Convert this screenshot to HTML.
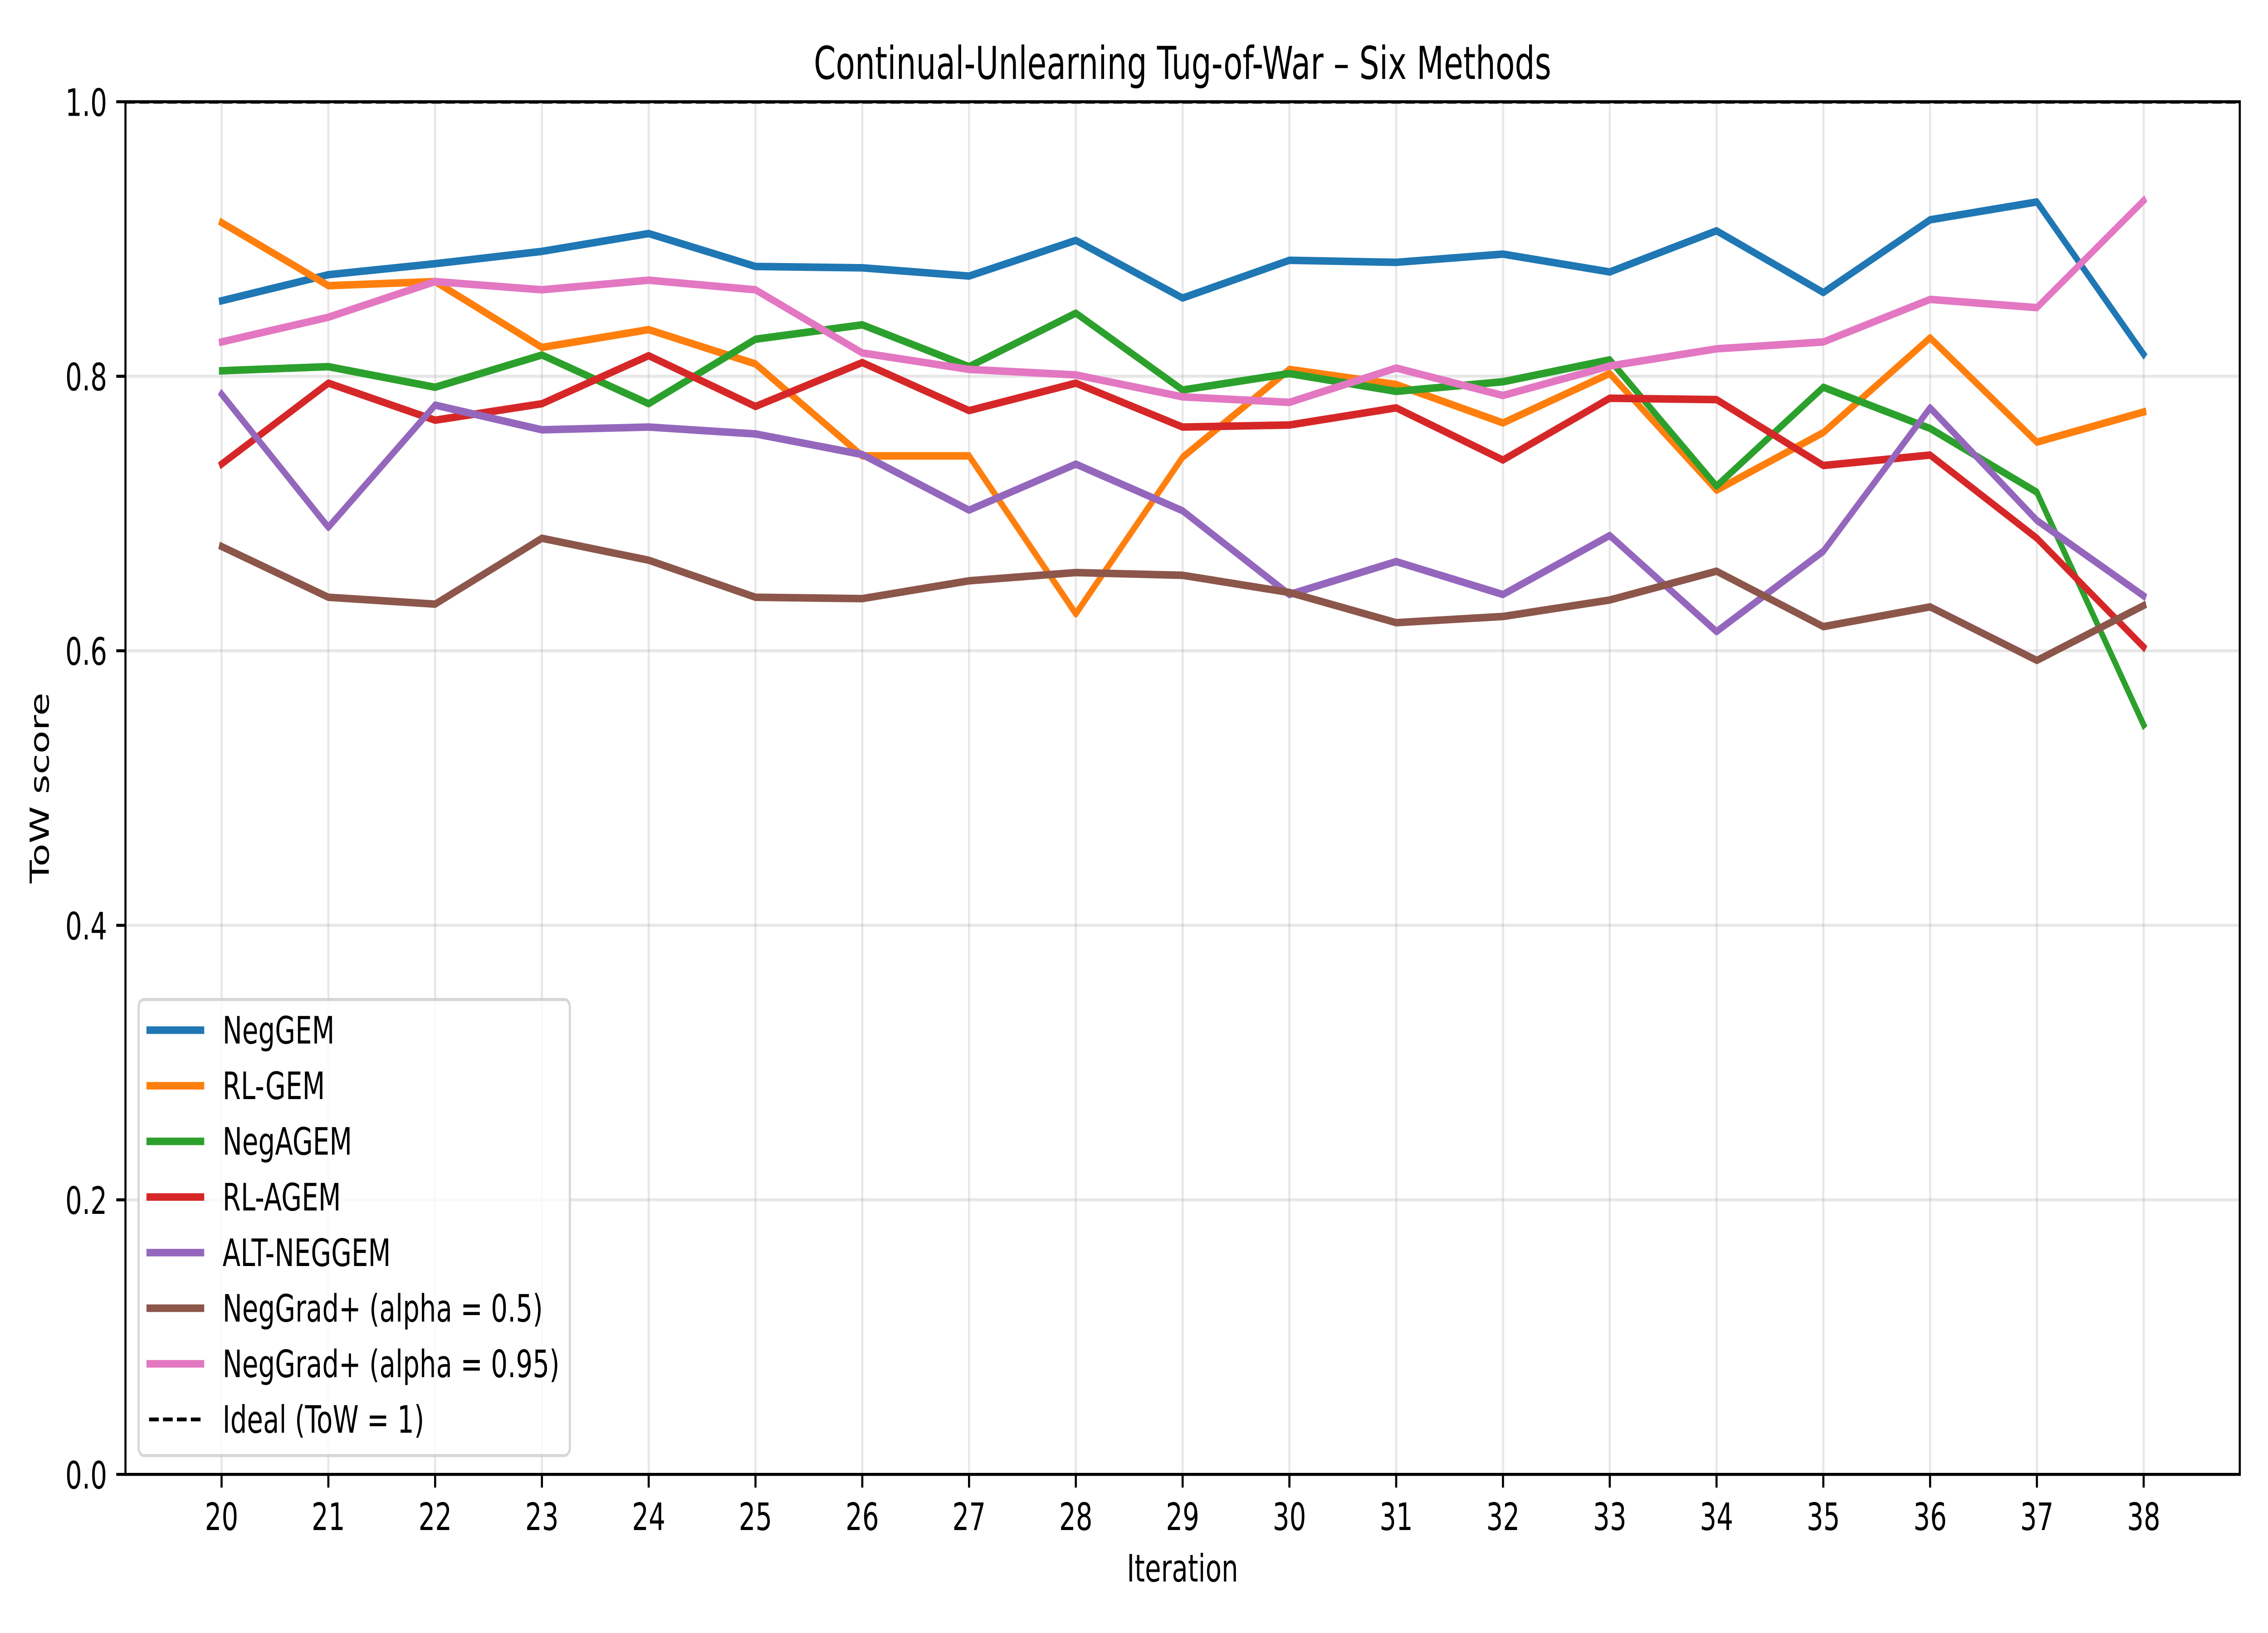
<!DOCTYPE html>
<html lang="en">
<head>
<meta charset="utf-8">
<title>Continual-Unlearning Tug-of-War – Six Methods</title>
<style>
html,body{margin:0;padding:0;background:#fff;width:100%;height:100%;overflow:hidden}
svg{display:block;position:fixed;left:0;top:0;width:100vw;height:100vh;font-family:"DejaVu Sans","Liberation Sans",sans-serif;text-rendering:geometricPrecision}
</style>
</head>
<body>
<svg id="chart" xmlns="http://www.w3.org/2000/svg" viewBox="0 0 7200 3600" preserveAspectRatio="none">
  <rect x="0" y="0" width="7200" height="3600" fill="#ffffff"/>
  <defs><clipPath id="axes-clip"><rect x="398.3" y="224.3" width="6712.1" height="3026"/></clipPath></defs>
  <g id="grid"></g>
  <g id="series"></g>
  <g id="ticks"></g>
  <g id="spines"></g>
  <g id="legend"></g>
  <text x="3754" y="174" font-size="100" text-anchor="middle" fill="#000">Continual-Unlearning Tug-of-War – Six Methods</text>
  <text x="3754" y="3486.5" font-size="83.33" text-anchor="middle" fill="#000">Iteration</text>
  <text x="155" y="1737" font-size="83.33" text-anchor="middle" fill="#000" transform="rotate(-90 155 1737)">ToW score</text>
</svg>
<script>
const iterations = [20,21,22,23,24,25,26,27,28,29,30,31,32,33,34,35,36,37,38];
const yTickValues = [0,0.2,0.4,0.6,0.8,1];
const yTickLabels = ['0.0','0.2','0.4','0.6','0.8','1.0'];
const seriesNames = ['NegGEM','RL-GEM','NegAGEM','RL-AGEM','ALT-NEGGEM','NegGrad+ (alpha = 0.5)','NegGrad+ (alpha = 0.95)'];
const idealLabel = 'Ideal (ToW = 1)';
const idealValue = 1;
const negGem = [.855,.874,.882,.891,.904,.880,.879,.873,.899,.857,.8845,.883,.889,.876,.906,.861,.914,.927,.816];
const rlGem = [.912,.866,.869,.821,.834,.809,.742,.742,.627,.741,.805,.794,.766,.802,.717,.759,.828,.752,.774];
const negAgem = [.804,.807,.792,.8155,.780,.827,.8375,.807,.846,.790,.802,.789,.796,.812,.720,.792,.762,.7155,.546];
const rlAgem = [.736,.795,.768,.780,.815,.778,.810,.775,.795,.763,.7645,.777,.739,.784,.783,.735,.7426,.682,.6027];
const altNeggem = [.787,.690,.779,.761,.763,.758,.743,.7025,.736,.702,.641,.665,.641,.684,.614,.6725,.777,.695,.640];
const negGradHalf = [.676,.639,.634,.682,.666,.639,.638,.651,.657,.655,.6425,.6205,.625,.637,.658,.6176,.632,.593,.633];
const negGradHigh = [.825,.843,.869,.863,.870,.863,.817,.805,.801,.785,.781,.806,.786,.8075,.820,.825,.856,.850,.928];
const allSeries = [negGem,rlGem,negAgem,rlAgem,altNeggem,negGradHalf,negGradHigh];
const seriesColors = ['#1f77b4','#ff7f0e','#2ca02c','#d62728','#9467bd','#8c564b','#e377c2'];

const NS = 'http://www.w3.org/2000/svg';
const axLeft = 398.3, axRight = 7110.4, axTop = 224.3, axBottom = 3250.3;
const xMin = iterations[0] - (iterations[iterations.length-1]-iterations[0])*0.05;
const xMax = iterations[iterations.length-1] + (iterations[iterations.length-1]-iterations[0])*0.05;
function xScale(v){ return axLeft + (v-xMin)/(xMax-xMin)*(axRight-axLeft); }
function yScale(v){ return axBottom - v*(axBottom-axTop); }
function mk(tag, parent, attrs){
  const el = document.createElementNS(NS, tag);
  for (const k in attrs) el.setAttribute(k, attrs[k]);
  parent.appendChild(el);
  return el;
}
function slug(s){ return s.toLowerCase().replace(/[^a-z0-9]+/g,'-').replace(/^-|-$/g,''); }

const gridG = document.getElementById('grid');
const seriesG = document.getElementById('series');
const ticksG = document.getElementById('ticks');
const spinesG = document.getElementById('spines');
const legendG = document.getElementById('legend');
const LW = 6.67, TICK = 29.17, PAD = 29.17, FS = 83.33;

iterations.forEach(function(it){
  const px = xScale(it);
  const g = mk('line', gridG, {x1:px,x2:px,y1:axTop,y2:axBottom,stroke:'#b0b0b0','stroke-opacity':0.3,'stroke-width':LW});
  
  
  const t = mk('line', ticksG, {x1:px,x2:px,y1:axBottom,y2:axBottom+TICK,stroke:'#000','stroke-width':LW});
  
  
  const l = mk('text', ticksG, {x:px,y:3373,'font-size':FS,'text-anchor':'middle',fill:'#000'});
  l.textContent = String(it);
  
  
});
yTickValues.forEach(function(v,i){
  const py = yScale(v);
  const g = mk('line', gridG, {x1:axLeft,x2:axRight,y1:py,y2:py,stroke:'#b0b0b0','stroke-opacity':0.3,'stroke-width':LW});
  
  
  const t = mk('line', ticksG, {x1:axLeft-TICK,x2:axLeft,y1:py,y2:py,stroke:'#000','stroke-width':LW});
  
  
  const l = mk('text', ticksG, {x:axLeft-TICK-PAD,y:py+31,'font-size':FS,'text-anchor':'end',fill:'#000'});
  l.textContent = yTickLabels[i];
  
  
});

allSeries.forEach(function(vals,i){
  const pts = vals.map(function(v,j){ return xScale(iterations[j]).toFixed(2)+','+yScale(v).toFixed(2); }).join(' ');
  const p = mk('polyline', seriesG, {points:pts,fill:'none',stroke:seriesColors[i],'stroke-width':16.67,'stroke-linecap':'square','stroke-linejoin':'round'});
  
  
});
const ideal = mk('line', seriesG, {x1:axLeft,x2:axRight,y1:yScale(idealValue),y2:yScale(idealValue),stroke:'#000','stroke-width':8.33,'stroke-dasharray':'30.83 13.33','clip-path':'url(#axes-clip)'});



const spineTop = mk('line', spinesG, {x1:axLeft-3.33,x2:axRight+3.33,y1:axTop,y2:axTop,stroke:'#000','stroke-width':LW});


const spineBottom = mk('line', spinesG, {x1:axLeft-3.33,x2:axRight+3.33,y1:axBottom,y2:axBottom,stroke:'#000','stroke-width':LW});


const spineLeft = mk('line', spinesG, {x1:axLeft,x2:axLeft,y1:axTop,y2:axBottom,stroke:'#000','stroke-width':LW});


const spineRight = mk('line', spinesG, {x1:axRight,x2:axRight,y1:axTop,y2:axBottom,stroke:'#000','stroke-width':LW});



const frame = mk('rect', legendG, {x:440,y:2203.5,width:1369,height:1005.3,rx:16.67,ry:16.67,fill:'#ffffff','fill-opacity':0.8,stroke:'#cccccc','stroke-opacity':0.8,'stroke-width':LW});


const rowY = function(i){ return 2271 + i*122.6; };
seriesNames.forEach(function(name,i){
  const ln = mk('line', legendG, {x1:473.3,x2:640,y1:rowY(i),y2:rowY(i),stroke:seriesColors[i],'stroke-width':16.67,'stroke-linecap':'square'});
  
  
  const tx = mk('text', legendG, {x:706.5,y:rowY(i)+29.5,'font-size':FS,fill:'#000'});
  tx.textContent = name;
  
  
});
const idealSwatch = mk('line', legendG, {x1:473.3,x2:640,y1:rowY(7),y2:rowY(7),stroke:'#000','stroke-width':8.33,'stroke-dasharray':'30.83 13.33'});


const idealText = mk('text', legendG, {x:706.5,y:rowY(7)+29.5,'font-size':FS,fill:'#000'});
idealText.textContent = idealLabel;


</script>
</body>
</html>
